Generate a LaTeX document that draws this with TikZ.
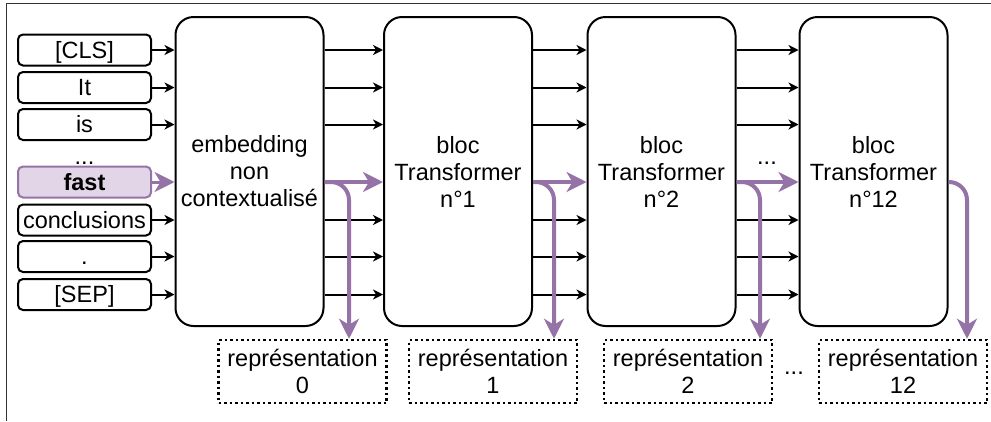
\documentclass[tikz,border=0pt]{standalone}
\usepackage{fontspec}
\setmainfont{Liberation Sans}
\usetikzlibrary{arrows.meta}
\definecolor{lila}{HTML}{9673A6}
\definecolor{lilafond}{HTML}{E1D5E7}
\begin{document}
\begin{tikzpicture}[x=1pt,y=-1pt,
    font=\fontsize{23.5}{27}\selectfont,
    tok/.style={draw,line width=2pt,rounded corners=5pt,minimum width=133pt,minimum height=31pt,inner sep=1pt,text height=20pt,text depth=4pt},
    bloc/.style={draw,line width=2pt,rounded corners=18pt,minimum width=148pt,minimum height=309pt,align=center},
    rep/.style={draw,line width=2.5pt,dash pattern=on 2.5pt off 3pt,minimum width=168pt,minimum height=63pt,align=center,inner sep=1pt},
    fleche/.style={line width=2pt,-{Stealth[length=10pt,width=10pt,inset=3pt]}},
    branche/.style={draw=lila,line width=4pt,rounded corners=18pt,-{Stealth[length=20pt,width=20pt,inset=6pt]}}]
      \useasboundingbox (0,0) rectangle (991,421);
      \draw[line width=1pt,black!80] (6,421) -- (6,3) -- (991,3);
      \draw
        (84.5,50) node[tok] (cls){[CLS]}
        (84.5,87.5) node[tok] (it){It}
        (84.5,124.5) node[tok] (is){is}
        (84.5,164) node[anchor=base] (pts0){...}
        (84.5,182) node[tok,draw=lila,fill=lilafond,font=\fontsize{23.5}{27}\selectfont\bfseries] (fast){fast}
        (84.5,220) node[tok] (concl){conclusions}
        (84.5,256.5) node[tok] (dot){.}
        (84.5,294.5) node[tok] (sep){[SEP]};
      \draw
        (249.5,171.5) node[bloc] (emb){embedding\\non\\contextualisé}
        (458,171.5) node[bloc] (blk1){bloc\\Transformer\\n°1}
        (661.5,171.5) node[bloc] (blk2){bloc\\Transformer\\n°2}
        (873.5,171.5) node[bloc] (blk12){bloc\\Transformer\\n°12}
        (767,164) node[anchor=base] (pts1){...};
      \draw
        (302.5,371.5) node[rep] (rep0){représentation\\0}
        (493,371.5) node[rep] (rep1){représentation\\1}
        (688,371.5) node[rep] (rep2){représentation\\2}
        (903,371.5) node[rep] (rep12){représentation\\12}
        (794,374) node[anchor=base] (pts2){...};
      \coordinate (d0) at (349,0);
      \coordinate (d1) at (554,0);
      \coordinate (d2) at (760,0);
      \coordinate (d12) at (967,0);
      \begin{scope}[fleche]
        \draw (cls.east) -- (emb.west |- cls);
        \draw (it.east) -- (emb.west |- it);
        \draw (is.east) -- (emb.west |- is);
        \draw (concl.east) -- (emb.west |- concl);
        \draw (dot.east) -- (emb.west |- dot);
        \draw (sep.east) -- (emb.west |- sep);
        \draw (emb.east |- cls) -- (blk1.west |- cls);
        \draw (emb.east |- it) -- (blk1.west |- it);
        \draw (emb.east |- is) -- (blk1.west |- is);
        \draw (emb.east |- concl) -- (blk1.west |- concl);
        \draw (emb.east |- dot) -- (blk1.west |- dot);
        \draw (emb.east |- sep) -- (blk1.west |- sep);
        \draw (blk1.east |- cls) -- (blk2.west |- cls);
        \draw (blk1.east |- it) -- (blk2.west |- it);
        \draw (blk1.east |- is) -- (blk2.west |- is);
        \draw (blk1.east |- concl) -- (blk2.west |- concl);
        \draw (blk1.east |- dot) -- (blk2.west |- dot);
        \draw (blk1.east |- sep) -- (blk2.west |- sep);
        \draw (blk2.east |- cls) -- (blk12.west |- cls);
        \draw (blk2.east |- it) -- (blk12.west |- it);
        \draw (blk2.east |- is) -- (blk12.west |- is);
        \draw (blk2.east |- concl) -- (blk12.west |- concl);
        \draw (blk2.east |- dot) -- (blk12.west |- dot);
        \draw (blk2.east |- sep) -- (blk12.west |- sep);
      \end{scope}
      \begin{scope}[branche]
        \draw[line width=3pt] (fast.east) -- (emb.west |- fast);
        \draw (emb.east |- fast) -- (blk1.west |- fast);
        \draw (emb.east |- fast) -| (d0 |- rep0.north);
        \draw (blk1.east |- fast) -- (blk2.west |- fast);
        \draw (blk1.east |- fast) -| (d1 |- rep1.north);
        \draw (blk2.east |- fast) -- (blk12.west |- fast);
        \draw (blk2.east |- fast) -| (d2 |- rep2.north);
        \draw (blk12.east |- fast) -| (d12 |- rep12.north);
      \end{scope}
    \end{tikzpicture}
\end{document}
